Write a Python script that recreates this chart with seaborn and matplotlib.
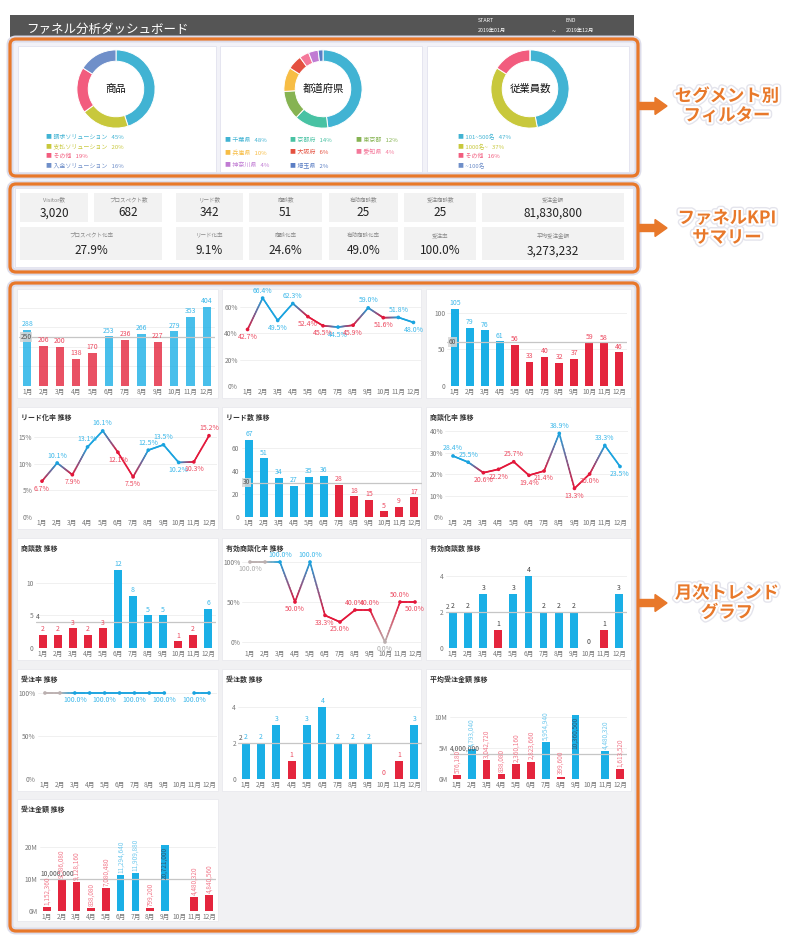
import numpy as np
import pandas as pd
import matplotlib.pyplot as plt
import matplotlib.patheffects as pe
from matplotlib.patches import FancyBboxPatch, FancyArrow
from matplotlib.collections import LineCollection
from matplotlib.colors import to_rgb
import seaborn as sns

sns.set_style('white')
plt.rcParams['font.family'] = ['Noto Sans CJK JP', 'DejaVu Sans']

W, H = 800, 952
months = [f'{m}月' for m in range(1, 13)]

# segment filters (share in %)
product_names = ['請求ソリューション', '支払ソリューション', 'その他', '入金ソリューション']
product_share = [45, 20, 19, 16]
pref_names = ['千葉県', '京都府', '東京都', '兵庫県', '大阪府', '愛知県', '神奈川県', '埼玉県']
pref_share = [48, 14, 12, 10, 6, 4, 4, 2]
emp_names = ['101~500名', '1000名~', 'その他', '~100名']
emp_share = [47, 37, 16, 0]

# KPI summary
kpi_top_labels = ['Visitor数', 'プロスペクト数', 'リード数', '商談数', '有効商談数', '受注商談数', '受注金額']
kpi_top_values = ['3,020', '682', '342', '51', '25', '25', '81,830,800']
kpi_bottom_labels = ['プロスペクト化率', 'リード化率', '商談化率', '有効商談化率', '受注率', '平均受注金額']
kpi_bottom_values = ['27.9%', '9.1%', '24.6%', '49.0%', '100.0%', '3,273,232']

# monthly trends (u = good / d = bad / n = neutral)
visitors = [288, 206, 200, 138, 170, 253, 236, 266, 227, 279, 353, 404]
visitors_status = list('uddddududuuu')
prospect_rate = [42.7, 66.4, 49.5, 62.3, 52.4, 45.5, 44.5, 45.9, 59.0, 51.6, 51.8, 48.0]
prospect_rate_status = list('duuuddududuu')
prospects = [105, 79, 76, 61, 56, 33, 40, 32, 37, 59, 58, 46]
prospects_status = list('uuuudddddddd')
lead_rate = [6.7, 10.1, 7.9, 13.1, 16.1, 12.1, 7.5, 12.5, 13.5, 10.2, 10.3, 15.2]
lead_rate_status = list('duduudduuudd')
leads = [67, 51, 34, 27, 35, 36, 28, 18, 15, 5, 9, 17]
leads_status = list('uuuuuudddddd')
deal_rate = [28.4, 25.5, 20.6, 22.2, 25.7, 19.4, 21.4, 38.9, 13.3, 20.0, 33.3, 23.5]
deal_rate_status = list('uudddddudduu')
deals = [2, 2, 3, 2, 3, 12, 8, 5, 5, 1, 2, 6]
deals_status = list('ddddduuuuddu')
valid_rate = [100, 100, 100, 50, 100, 33.3, 25, 40, 40, 0, 50, 50]
valid_rate_status = list('nnududdddndd')
valid_deals = [2, 2, 3, 1, 3, 4, 2, 2, 2, 0, 1, 3]
valid_deals_status = list('uuuduuuuuudu')
win_rate = [100, 100, 100, 100, 100, 100, 100, 100, 100, np.nan, 100, 100]
win_rate_status = list('nnuuuuuuunuu')
wins = [2, 2, 3, 1, 3, 4, 2, 2, 2, 0, 1, 3]
wins_status = list('uuuduuuuuddu')
avg_order = [576180, 4793040, 3042720, 838080, 2360160, 2823660, 5954940, 399600,
             10360500, np.nan, 4480320, 1613520]
avg_order_status = list('duddddudunud')
order_amount = [1152360, 9586080, 9128160, 838080, 7080480, 11294640, 11909880, 799200,
                20721000, np.nan, 4480320, 4840560]
order_amount_status = list('ddddduudundd')

panel_titles = ['リード化率 推移', 'リード数 推移', '商談化率 推移',
                '商談数 推移', '有効商談化率 推移', '有効商談数 推移',
                '受注率 推移', '受注数 推移', '平均受注金額 推移', '受注金額 推移']

ORANGE = '#E8782A'
BAR = {'u': '#1AAFE6', 'd': '#E4253D', 'n': '#B8AEAE'}
LINE = {'u': '#1AA3DF', 'd': '#E3173A', 'n': '#BBB0B0'}
TXT = {'u': '#3CB8EA', 'd': '#EC4A60', 'n': '#AAAAAA'}
TXT_LIGHT = {'u': '#72CAEE', 'd': '#F27B8C', 'n': '#AAAAAA'}

fig = plt.figure(figsize=(W / 100, H / 100), dpi=100)
bg = fig.add_axes([0, 0, 1, 1])
bg.set_xlim(0, W)
bg.set_ylim(H, 0)
bg.axis('off')


def box(x0, y0, x1, y1, fc, ec='none', lw=0.0, r=0.0, z=1):
    style = f'round,pad=0,rounding_size={r}' if r else 'square,pad=0'
    bg.add_patch(FancyBboxPatch((x0, y0), x1 - x0, y1 - y0, boxstyle=style,
                                fc=fc, ec=ec, lw=lw, zorder=z))


# header bar
box(10, 15, 634, 38, '#555555')
bg.text(26, 29, 'ファネル分析ダッシュボード', color='white', fontsize=9, va='center')
bg.text(478, 21, 'START', color='white', fontsize=3.8, va='center')
bg.text(478, 30, '2019年01月', color='white', fontsize=3.8, va='center')
bg.text(552, 32, '~', color='white', fontsize=5, va='center')
bg.text(565, 21, 'END', color='white', fontsize=3.8, va='center')
bg.text(566, 30, '2019年12月', color='white', fontsize=3.8, va='center')

# orange frames
for y0, y1, fill in [(39, 176, '#F2F2F8'), (184, 272, '#F2F2F8'), (283, 931, '#F1F1F3')]:
    box(10, y0, 638, y1, fill, ec='#DCDCEA', lw=5, r=6, z=1)
    box(10, y0, 638, y1, 'none', ec=ORANGE, lw=2.3, r=6, z=6)

# ---- segment donuts
panel_x = [(18, 216), (220, 422), (427, 629)]
for x0, x1 in panel_x:
    box(x0, 46, x1, 172, 'white', ec='#E2E2EE', lw=0.6, z=2)

seg_cols1 = ['#41B3D3', '#C8C83C', '#F25C7E', '#6F8FC9']
seg_cols2 = ['#41B3D3', '#48C2A3', '#86B352', '#F7BD45', '#E4503F', '#F4789A', '#C07BD3', '#5B7EC4']


def donut(cx, cy, vals, cols, label):
    s = 86
    ax = fig.add_axes([(cx - s / 2) / W, 1 - (cy + s / 2) / H, s / W, s / H])
    ax.pie(vals, colors=cols, startangle=90, counterclock=False, radius=1,
           wedgeprops=dict(width=0.29, edgecolor='white', linewidth=0.7))
    ax.set_xlim(-1.1, 1.1)
    ax.set_ylim(-1.1, 1.1)
    ax.set_aspect('equal')
    ax.text(0, 0, label, ha='center', va='center', fontsize=7.5, color='#111')


def legend_item(x, y, name, pct, col):
    txt = f'■ {name}   {pct}%' if pct else f'■ {name}'
    bg.text(x, y, txt, fontsize=4.3, color=col, va='center', zorder=3)


donut(116, 89, product_share, seg_cols1, '商品')
donut(323, 89, pref_share, seg_cols2, '都道府県')
donut(530, 89, emp_share, seg_cols1, '従業員数')

for k, (n, p) in enumerate(zip(product_names, product_share)):
    legend_item(46, 137 + k * 9.7, n, p, seg_cols1[k])
for k, (n, p) in enumerate(zip(pref_names, pref_share)):
    legend_item(225 + (k % 3) * 65.5, 140 + (k // 3) * 12.5, n, p, seg_cols2[k])
for k, (n, p) in enumerate(zip(emp_names, emp_share)):
    legend_item(458, 137 + k * 9.7, n, p, seg_cols1[k])

# ---- KPI summary
box(15, 188, 633, 267, 'white', ec='#E2E2EE', lw=0.6, z=2)
top_cells = [(20, 88), (94, 162), (176, 243), (249, 322), (329, 398), (404, 476), (482, 624)]
bottom_cells = [(20, 162), (176, 243), (249, 322), (329, 398), (404, 476), (482, 624)]
for (x0, x1), lab, val in zip(top_cells, kpi_top_labels, kpi_top_values):
    box(x0, 193, x1, 222, '#F2F2F2', z=3)
    bg.text((x0 + x1) / 2, 199, lab, ha='center', va='center', fontsize=4, color='#888', zorder=4)
    bg.text((x0 + x1) / 2, 213, val, ha='center', va='center', fontsize=8.5, color='#222', zorder=4)
for (x0, x1), lab, val in zip(bottom_cells, kpi_bottom_labels, kpi_bottom_values):
    box(x0, 227, x1, 260, '#F2F2F2', z=3)
    bg.text((x0 + x1) / 2, 235, lab, ha='center', va='center', fontsize=4, color='#888', zorder=4)
    bg.text((x0 + x1) / 2, 251, val, ha='center', va='center', fontsize=8.5, color='#222', zorder=4)

# ---- chart panels
cols_x = [(17, 218), (222, 421), (426, 631)]
rows_y = [(289, 398), (407, 529), (538, 660), (669, 791), (799, 921)]
t = 0
for r, (y0, y1) in enumerate(rows_y):
    for c, (x0, x1) in enumerate(cols_x):
        if r == 4 and c > 0:
            continue
        box(x0, y0, x1, y1, 'white', ec='#E6E6EC', lw=0.5, z=2)
        if r > 0:
            bg.text(x0 + 4, y0 + 10, panel_titles[t], fontsize=5, fontweight='bold',
                    color='#333', va='center', zorder=3)
            t += 1

row_plot = [(290, 386), (425, 517), (558, 648), (688, 779), (818, 911)]


def chart_ax(x0, x1, row):
    top, base = row_plot[row]
    ax = fig.add_axes([x0 / W, 1 - base / H, (x1 - x0) / W, (base - top) / H])
    ax.set_facecolor('none')
    return ax


def style(ax, yticks, fmt, ylim):
    ax.set_xlim(-0.5, 11.5)
    ax.set_ylim(*ylim)
    ax.set_yticks(yticks)
    ax.set_yticklabels([fmt(v) for v in yticks] if fmt else [])
    ax.set_xticks(range(12))
    ax.set_xticklabels(months)
    ax.tick_params(axis='both', length=0, labelsize=4.8, labelcolor='#777', pad=1.5)
    ax.set_xlabel('')
    ax.set_ylabel('')
    for sp in ax.spines.values():
        sp.set_visible(False)
    ax.grid(axis='y', color='#EEEEEE', lw=0.6)
    ax.set_axisbelow(True)


def bar_chart(ax, vals, status, avg, avg_txt, avg_box, label_color=None,
              rotate=False, alpha=1.0):
    df = pd.DataFrame({'month': months, 'value': vals, 'status': status})
    pal = {m: BAR[s] for m, s in zip(months, status)}
    sns.barplot(data=df.fillna({'value': 0}), x='month', y='value', hue='month',
                order=months, hue_order=months, palette=pal, dodge=False, legend=False,
                width=0.52, saturation=1, errorbar=None, linewidth=0, alpha=alpha, ax=ax)
    ax.axhline(avg, color='#C6C6C6', lw=0.9, zorder=3)
    if avg_box:
        ax.text(-0.42, avg, avg_txt, ha='left', va='center', fontsize=4.8, color='#555',
                zorder=4, bbox=dict(boxstyle='square,pad=0.12', fc='#D6D6D6', ec='none', alpha=0.85))
    else:
        ax.annotate(avg_txt, (-0.45, avg), xytext=(0, 0.8), textcoords='offset points',
                    ha='left', va='bottom', fontsize=4.8, color='#555', zorder=4)
    vmax = np.nanmax(vals)
    for i, (v, s) in enumerate(zip(vals, status)):
        if pd.isna(v):
            continue
        if rotate:
            lab = f'{v:,.0f}'
            if v == vmax:
                ax.annotate(lab, (i, v), xytext=(0, -1.5), textcoords='offset points',
                            ha='center', va='top', rotation=90, fontsize=4.6, color='#2C5D7A', zorder=5)
            else:
                ax.annotate(lab, (i, v), xytext=(0, 1.5), textcoords='offset points',
                            ha='center', va='bottom', rotation=90, fontsize=4.6, color=TXT_LIGHT[s], zorder=5)
        else:
            ax.annotate(f'{v:g}', (i, v), xytext=(0, 1.2), textcoords='offset points',
                        ha='center', va='bottom', fontsize=5, color=label_color or TXT[s], zorder=5)


def line_chart(ax, vals, status, label_idx=None):
    v = np.array(vals, dtype=float)
    segs, cols = [], []
    steps = 14
    for i in range(11):
        if np.isnan(v[i]) or np.isnan(v[i + 1]):
            continue
        c0 = np.array(to_rgb(LINE[status[i]]))
        c1 = np.array(to_rgb(LINE[status[i + 1]]))
        for k in range(steps):
            a, b = k / steps, (k + 1) / steps
            segs.append([(i + a, v[i] + (v[i + 1] - v[i]) * a), (i + b, v[i] + (v[i + 1] - v[i]) * b)])
            cols.append(c0 + (c1 - c0) * (a + b) / 2)
    ax.add_collection(LineCollection(segs, colors=cols, linewidths=1.2, capstyle='round', zorder=3))
    df = pd.DataFrame({'x': np.arange(12), 'value': v, 'status': status}).dropna()
    sns.scatterplot(data=df, x='x', y='value', hue='status', palette=LINE, s=7,
                    linewidth=0, legend=False, ax=ax, zorder=4)
    idxs = range(12) if label_idx is None else label_idx
    for i in idxs:
        if np.isnan(v[i]):
            continue
        nb = [v[j] for j in (i - 1, i + 1) if 0 <= j < 12 and not np.isnan(v[j])]
        if all(v[i] == n for n in nb):
            above = False
        elif all(v[i] >= n for n in nb):
            above = True
        elif all(v[i] <= n for n in nb):
            above = False
        else:
            above = status[i] == 'u'
        ax.annotate(f'{v[i]:.1f}%', (i, v[i]), xytext=(0, 2.5 if above else -2.5),
                    textcoords='offset points', ha='center', va='bottom' if above else 'top',
                    fontsize=5, color=TXT[status[i]], zorder=5)


pct = lambda x: f'{x:g}%'
num = lambda x: f'{x:g}'
mil = lambda x: f'{x / 1e6:g}M'

# row 1
ax = chart_ax(19, 215, 0)
bar_chart(ax, visitors, visitors_status, 250, '250', True, alpha=0.8)
style(ax, [0, 100, 200, 300, 400], None, (0, 490))
ax = chart_ax(240, 421, 0)
line_chart(ax, prospect_rate, prospect_rate_status)
style(ax, [0, 20, 40, 60], pct, (0, 72.5))
ax = chart_ax(447.5, 626.5, 0)
bar_chart(ax, prospects, prospects_status, 60, '60', True)
style(ax, [0, 50, 100], num, (0, 131))

# row 2
ax = chart_ax(34.4, 216.6, 1)
line_chart(ax, lead_rate, lead_rate_status)
style(ax, [0, 5, 10, 15], pct, (0, 17.2))
ax = chart_ax(241.5, 421.5, 1)
bar_chart(ax, leads, leads_status, 30, '30', True)
style(ax, [0, 20, 40, 60], num, (0, 80))
ax = chart_ax(445.4, 627.6, 1)
line_chart(ax, deal_rate, deal_rate_status)
style(ax, [0, 10, 20, 30, 40], pct, (0, 42.8))

# row 3
ax = chart_ax(35.5, 215.5, 2)
bar_chart(ax, deals, deals_status, 4, '4', False)
style(ax, [0, 5, 10], num, (0, 13.8))
ax = chart_ax(242.5, 422.5, 2)
line_chart(ax, valid_rate, valid_rate_status, label_idx=[0, 2, 3, 4, 5, 6, 7, 8, 9, 10, 11])
style(ax, [0, 50, 100], pct, (-7.5, 105))
ax = chart_ax(445.5, 626.5, 2)
bar_chart(ax, valid_deals, valid_deals_status, 2, '2', False, label_color='#444')
style(ax, [0, 2, 4], num, (0, 5))

# row 4
ax = chart_ax(37.5, 216.5, 3)
line_chart(ax, win_rate, win_rate_status, label_idx=[2, 4, 6, 8, 10])
style(ax, [0, 50, 100], pct, (0, 105.8))
ax = chart_ax(238, 422, 3)
bar_chart(ax, wins, wins_status, 2, '2', False)
style(ax, [0, 2, 4], num, (0, 5.05))
ax = chart_ax(449.6, 627.4, 3)
bar_chart(ax, avg_order, avg_order_status, 4e6, '4,000,000', False, rotate=True)
style(ax, [0, 5e6, 10e6], mil, (0, 14.7e6))

# row 5
ax = chart_ax(39.6, 216.4, 4)
bar_chart(ax, order_amount, order_amount_status, 1e7, '10,000,000', False, rotate=True)
style(ax, [0, 1e7, 2e7], mil, (0, 29e6))

# ---- side annotations
glow = [pe.Stroke(linewidth=5, foreground='#E4E4EC'), pe.Stroke(linewidth=3, foreground='white'), pe.Normal()]
for y, txt in [(106, 'セグメント別\nフィルター'), (228, 'ファネルKPI\nサマリー'), (603, '月次トレンド\nグラフ')]:
    bg.add_patch(FancyArrow(638, y, 29, 0, width=7, head_width=17, head_length=12,
                            length_includes_head=True, color=ORANGE, zorder=6))
    bg.text(727, y, txt, ha='center', va='center', fontsize=12.5, fontweight='bold',
            color=ORANGE, linespacing=1.1, path_effects=glow, zorder=7)

fig.savefig('out.png', dpi=100)
